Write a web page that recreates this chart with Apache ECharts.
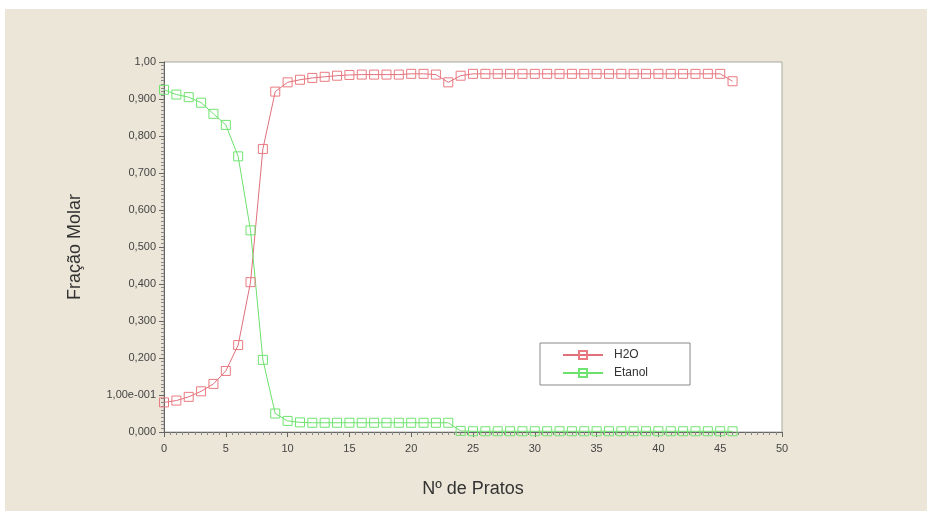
<!DOCTYPE html>
<html>
<head>
<meta charset="utf-8">
<script src="https://cdn.jsdelivr.net/npm/echarts@6/dist/echarts.min.js"></script>
<style>
  html, body { margin: 0; padding: 0; background: #fff; }
  #chart { width: 927px; height: 511px; }
</style>
</head>
<body>
<div id="chart"></div>
<script>
// Nº de pratos 0..46
var pratos = [];
for (var i = 0; i <= 46; i++) pratos.push(i);

var h2o = [0.080, 0.085, 0.095, 0.110, 0.130, 0.165, 0.235, 0.405, 0.765, 0.920,
           0.945, 0.952, 0.957, 0.960, 0.963, 0.965, 0.966, 0.966, 0.966, 0.966,
           0.968, 0.968, 0.966, 0.945, 0.963, 0.968, 0.968, 0.968, 0.968, 0.968,
           0.968, 0.968, 0.968, 0.968, 0.968, 0.968, 0.968, 0.968, 0.968, 0.968,
           0.968, 0.968, 0.968, 0.968, 0.968, 0.968, 0.948];

var etanol = [0.925, 0.912, 0.905, 0.890, 0.860, 0.830, 0.745, 0.545, 0.195, 0.050,
              0.030, 0.026, 0.025, 0.025, 0.025, 0.025, 0.025, 0.025, 0.025, 0.025,
              0.025, 0.025, 0.025, 0.025, 0.003, 0.002, 0.002, 0.002, 0.002, 0.002,
              0.002, 0.002, 0.002, 0.002, 0.002, 0.002, 0.002, 0.002, 0.002, 0.002,
              0.002, 0.002, 0.002, 0.002, 0.002, 0.002, 0.002];

var yTicks = {
    '0': '0,000', '0.1': '1,00e-001', '0.2': '0,200', '0.3': '0,300', '0.4': '0,400',
    '0.5': '0,500', '0.6': '0,600', '0.7': '0,700', '0.8': '0,800', '0.9': '0,900', '1': '1,00'
};

function pares(arr) {
    return arr.map(function (v, k) { return [pratos[k], v]; });
}

var myChart = echarts.init(document.getElementById('chart'));

var option = {
    backgroundColor: '#ffffff',
    animation: false,
    textStyle: { fontFamily: 'Liberation Sans, Arial, sans-serif' },
    graphic: [{
        type: 'rect',
        z: -10,
        shape: { x: 5, y: 9, width: 922, height: 502 },
        style: { fill: '#ece6d8' }
    }],
    grid: {
        left: 164, right: 145, top: 62, bottom: 79,
        show: true,
        backgroundColor: '#ffffff',
        borderColor: '#a8a8a0',
        borderWidth: 1
    },
    legend: {
        orient: 'vertical',
        left: 540, top: 343,
        backgroundColor: '#ffffff',
        borderColor: '#888888',
        borderWidth: 1,
        padding: [6, 42, 6, 22],
        itemWidth: 40, itemHeight: 10,
        itemGap: 6,
        textStyle: { fontSize: 12, color: '#333', padding: [0, 0, 0, 6] },
        data: ['H2O', 'Etanol']
    },
    xAxis: {
        type: 'value',
        min: 0, max: 50, interval: 5,
        name: 'Nº de Pratos',
        nameLocation: 'middle',
        nameGap: 48,
        nameTextStyle: { fontSize: 18, color: '#333' },
        axisLine: { onZero: false, lineStyle: { color: '#666', width: 1 } },
        axisTick: { show: true, length: 5, lineStyle: { color: '#666' } },
        minorTick: { show: true, splitNumber: 10, length: 3, lineStyle: { color: '#888' } },
        axisLabel: { fontSize: 11, color: '#444', margin: 11 },
        splitLine: { show: false }
    },
    yAxis: {
        type: 'value',
        min: 0, max: 1, interval: 0.1,
        name: 'Fração Molar',
        nameLocation: 'middle',
        nameGap: 80,
        nameRotate: 90,
        nameTextStyle: { fontSize: 18, color: '#333' },
        axisLine: { show: true, lineStyle: { color: '#666', width: 1 } },
        axisTick: { show: true, length: 5, lineStyle: { color: '#666' } },
        minorTick: { show: true, splitNumber: 10, length: 3, lineStyle: { color: '#888' } },
        axisLabel: {
            fontSize: 11, color: '#444', margin: 8,
            formatter: function (v) {
                var k = String(Math.round(v * 10) / 10);
                return yTicks[k] !== undefined ? yTicks[k] : '';
            }
        },
        splitLine: { show: false }
    },
    series: [{
        name: 'H2O',
        type: 'line',
        data: pares(h2o),
        symbol: 'rect',
        symbolSize: 9,
        showAllSymbol: true,
        lineStyle: { color: '#e0707c', width: 1 },
        itemStyle: { color: 'rgba(255,255,255,0)', borderColor: '#ea7a80', borderWidth: 1 }
    }, {
        name: 'Etanol',
        type: 'line',
        data: pares(etanol),
        symbol: 'rect',
        symbolSize: 9,
        showAllSymbol: true,
        lineStyle: { color: '#6ee06e', width: 1 },
        itemStyle: { color: 'rgba(255,255,255,0)', borderColor: '#70e470', borderWidth: 1 }
    }]
};

// desenhar o gráfico
myChart.setOption(option);
</script>
</body>
</html>
